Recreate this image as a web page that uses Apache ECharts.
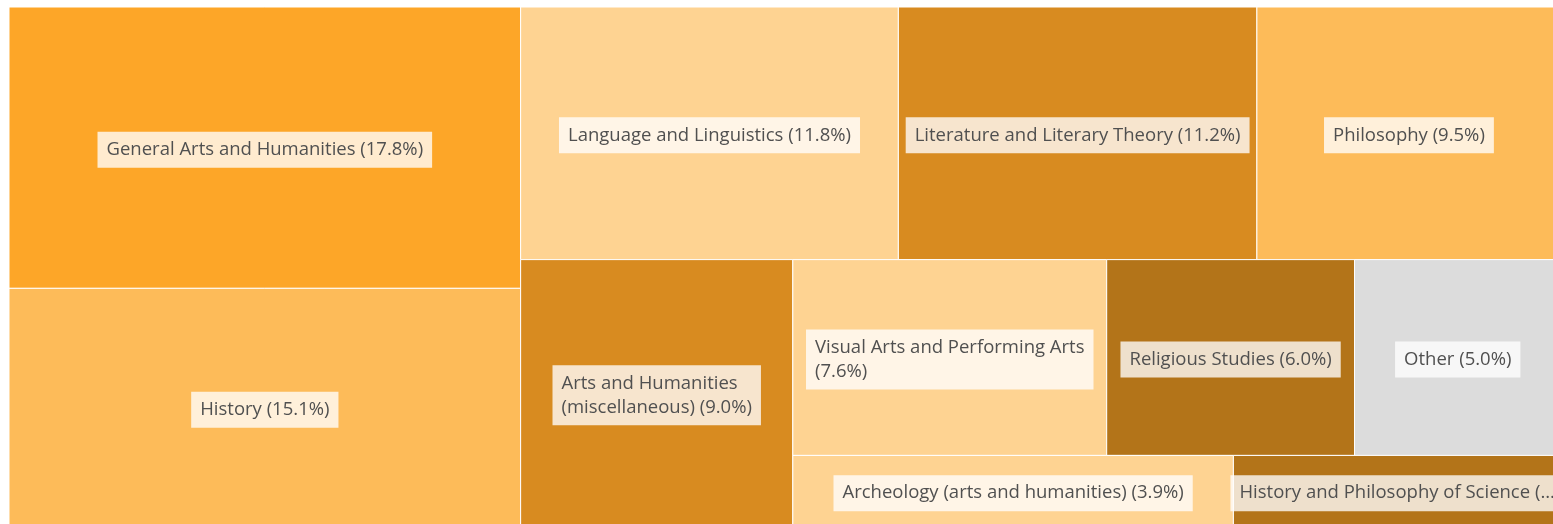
<!DOCTYPE html>
<html>
<head>
<meta charset="utf-8">
<script src="https://cdn.jsdelivr.net/npm/echarts@6/dist/echarts.min.js"></script>
<style>
  html, body { margin: 0; padding: 0; background: #fff; }
  #chart { width: 1553px; height: 524px; }
</style>
</head>
<body>
<div id="chart"></div>
<script>
// subject areas and their share of documents (%)
const categories = [
  "General Arts and Humanities",
  "History",
  "Language and Linguistics",
  "Literature and Literary Theory",
  "Philosophy",
  "Arts and Humanities (miscellaneous)",
  "Visual Arts and Performing Arts",
  "Religious Studies",
  "Other",
  "Archeology (arts and humanities)",
  "History and Philosophy of Science"
];
const shares = [17.8, 15.1, 11.8, 11.2, 9.5, 9.0, 7.6, 6.0, 5.0, 3.9, 2.9];

// how the cells are nested (indexes into categories), slice and dice
const groups = [[0, 1], [[2, 3, 4], [5, [[6, 7, 8], [9, 10]]]]];

const cellColors = [
  "#fda628", "#fdbb59", "#fed392", "#d88b20", "#fdbb59", "#d88b20",
  "#fed392", "#b37419", "#dcdcdc", "#fed392", "#b37419"
];

const FONT_SIZE = 18.5;
const FONT_FAMILY = '"Open Sans"';
const LINE_H = 24;
const PAD = [6, 9];

const measureCtx = document.createElement("canvas").getContext("2d");
measureCtx.font = FONT_SIZE + "px " + FONT_FAMILY;
const textWidth = (s) => measureCtx.measureText(s).width;

function sumOf(node) {
  return typeof node === "number" ? shares[node] : node.reduce((s, n) => s + sumOf(n), 0);
}

// split along x on even depths, along y on odd ones
function sliceDice(node, x0, y0, x1, y1, depth, out) {
  if (typeof node === "number") {
    out[node] = [x0, y0, x1, y1];
    return;
  }
  const total = sumOf(node);
  const alongX = depth % 2 === 0;
  let pos = alongX ? x0 : y0;
  node.forEach((child) => {
    const span = (sumOf(child) / total) * (alongX ? x1 - x0 : y1 - y0);
    if (alongX) sliceDice(child, pos, y0, pos + span, y1, depth + 1, out);
    else sliceDice(child, x0, pos, x1, pos + span, depth + 1, out);
    pos += span;
  });
}

const cells = [];
sliceDice(groups, 0, 0, 1, 1, 0, cells);

function wrap(text, maxW) {
  const lines = [];
  let cur = "";
  text.split(" ").forEach((w) => {
    const t = cur ? cur + " " + w : w;
    if (!cur || textWidth(t) <= maxW) cur = t;
    else {
      lines.push(cur);
      cur = w;
    }
  });
  lines.push(cur);
  return lines;
}

function truncate(text, maxW) {
  if (textWidth(text) <= maxW) return text;
  let s = text;
  while (s.length && textWidth(s + "...") > maxW) s = s.slice(0, -1);
  return s + "...";
}

const chart = echarts.init(document.getElementById("chart"));

chart.setOption({
  animation: false,
  grid: { left: 9, top: 7, width: 1552, height: 520, outerBoundsMode: "none" },
  xAxis: { type: "value", min: 0, max: 1, show: false },
  yAxis: { type: "value", min: 0, max: 1, inverse: true, show: false },
  series: [
    {
      type: "custom",
      silent: true,
      clip: false,
      data: cells.map((c, i) => ({ name: categories[i], value: c.concat(shares[i]) })),
      renderItem(params, api) {
        const i = params.dataIndex;
        const p0 = api.coord([api.value(0), api.value(1)]);
        const p1 = api.coord([api.value(2), api.value(3)]);
        const w = p1[0] - p0[0];
        const h = p1[1] - p0[1];
        const label = categories[i] + " (" + shares[i].toFixed(1) + "%)";

        let lines;
        if (h < 2 * LINE_H + 2 * PAD[0] + 20) lines = [truncate(label, w - 8)];
        else lines = wrap(label, w - 20);
        const maxW = Math.max(...lines.map(textWidth));
        const boxW = maxW + 2 * PAD[1];

        return {
          type: "group",
          children: [
            {
              type: "rect",
              shape: { x: p0[0], y: p0[1], width: w, height: h },
              style: { fill: cellColors[i], stroke: "#fff", lineWidth: 1 }
            },
            {
              type: "text",
              z2: 10,
              x: p0[0] + w / 2 - boxW / 2,
              y: p0[1] + h / 2 + 2,
              style: {
                text: lines.join("\n"),
                fill: "#505050",
                fontSize: FONT_SIZE,
                fontFamily: FONT_FAMILY,
                lineHeight: LINE_H,
                align: "left",
                verticalAlign: "middle",
                backgroundColor: "rgba(255,255,255,0.78)",
                padding: PAD
              }
            }
          ]
        };
      }
    }
  ]
});
</script>
</body>
</html>
